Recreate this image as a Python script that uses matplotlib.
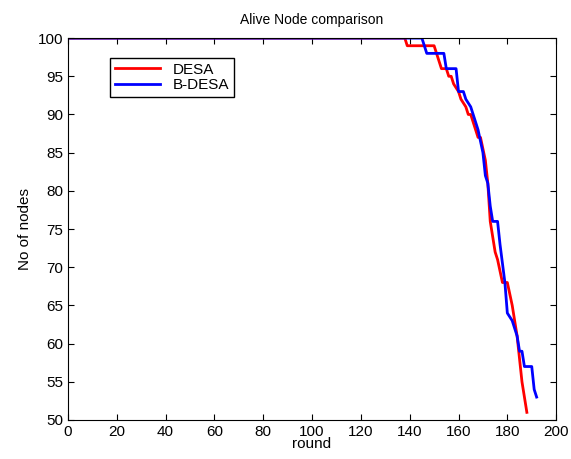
import matplotlib.pyplot as plt

plt.rcParams['font.family'] = ['Liberation Sans', 'DejaVu Sans']

# alive nodes per round (breakpoints)
desa_rounds = [0, 138, 139, 150, 151, 153, 155, 156, 157, 158, 160, 161, 163, 164,
               165, 167, 168, 169, 171, 172, 173, 174, 175, 176, 178, 180, 182, 184,
               185, 186, 187, 188]
desa_alive = [100, 100, 99, 99, 98, 96, 96, 95, 95, 94, 93, 92, 91, 90,
              90, 88, 87, 87, 84, 81, 76, 74, 72, 71, 68, 68, 65, 61,
              58, 55, 53, 51]

bdesa_rounds = [0, 145, 146, 147, 154, 155, 159, 160, 162, 163, 165, 166, 168, 170,
                171, 172, 173, 174, 176, 177, 179, 180, 182, 184, 185, 186, 187, 190,
                191, 192]
bdesa_alive = [100, 100, 99, 98, 98, 96, 96, 93, 93, 92, 91, 90, 88, 85,
               82, 81, 78, 76, 76, 73, 68, 64, 63, 61, 59, 59, 57, 57,
               54, 53]

fig = plt.figure(figsize=(5.71, 4.59), dpi=100)
ax = fig.add_axes([0.119, 0.085, 0.855, 0.832])

ax.plot(desa_rounds, desa_alive, color='red', lw=2, label='DESA')
ax.plot(bdesa_rounds, bdesa_alive, color='blue', lw=2, label='B-DESA')

ax.set_xlim(0, 200)
ax.set_ylim(50, 100)
ax.set_xticks(range(0, 201, 20))
ax.set_yticks(range(50, 101, 5))
ax.tick_params(direction='in', top=True, right=True, labelsize=11, length=4)

ax.set_title('Alive Node comparison', fontsize=10, pad=10)
ax.set_xlabel('round', fontsize=11, labelpad=-1)
ax.set_ylabel('No of nodes', fontsize=11)

leg = ax.legend(loc='upper left', bbox_to_anchor=(0.086, 0.948), fontsize=11,
                fancybox=False, framealpha=1, edgecolor='black',
                borderpad=0.3, labelspacing=0.1, handlelength=3, borderaxespad=0)
leg.get_frame().set_linewidth(1)

fig.savefig('out.png', dpi=100)
